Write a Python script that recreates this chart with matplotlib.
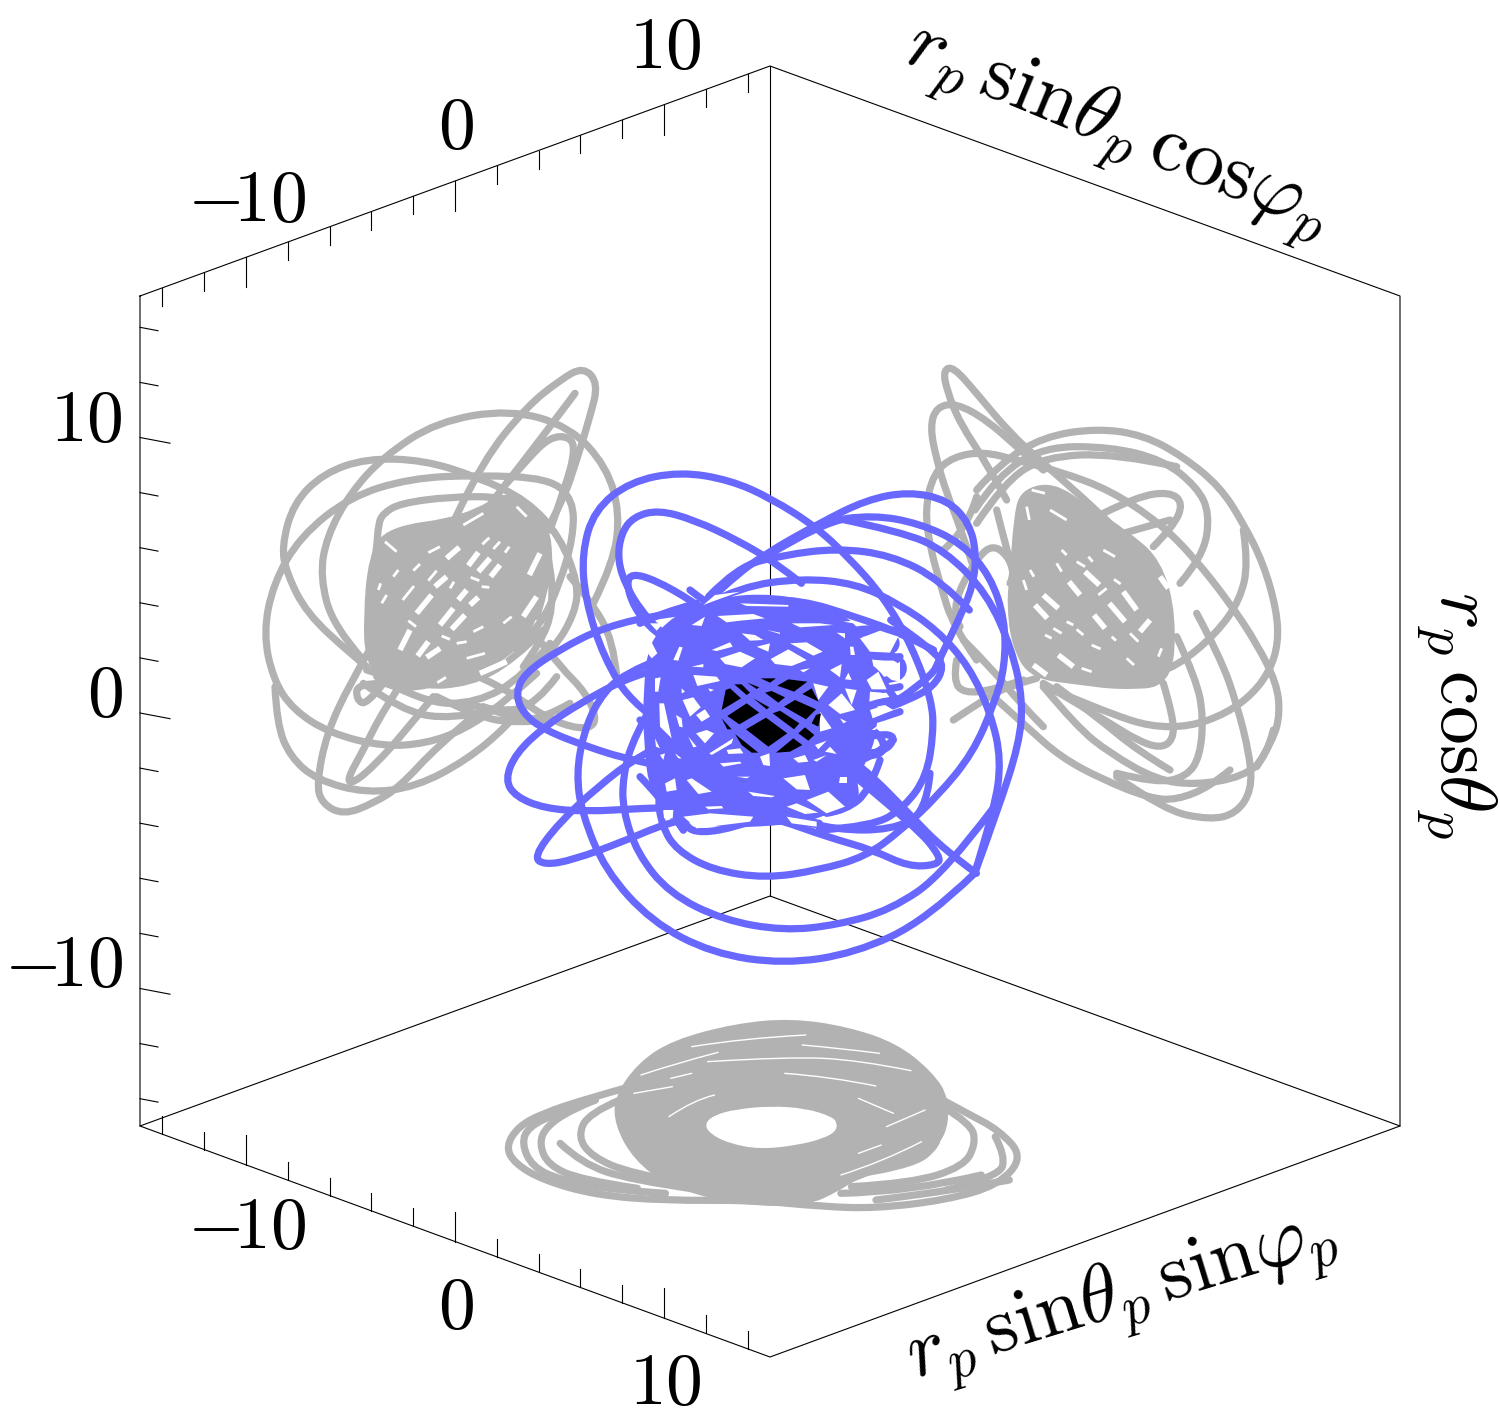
#!/usr/bin/env python

import matplotlib
matplotlib.use('Agg')
import matplotlib.pyplot as plt
from matplotlib.patches import PathPatch, Polygon
from matplotlib.path import Path

plt.rcParams['mathtext.fontset'] = 'cm'

BLUE = '#6868ff'
GRAY = '#b2b2b2'

# curves, each in the units of its own crop:
# image x = x0 + cx / sx, image y = y0 + cy / sy
blue_loops = [
    [(1385,1240),(1250,1380),(1050,1480),(850,1512),(650,1480),(480,1385),(350,1230),(285,1060),(270,940),(290,820),(330,720),(400,640),(520,590)],
    [(1440,1040),(1300,1240),(1150,1350),(1000,1395),(850,1412),(680,1380),(530,1300),(440,1180),(400,1050),(400,950),(430,830),(500,700)],
    [(1385,1240),(1450,1050),(1510,850),(1520,720),(1490,570),(1420,400),(1300,270),(1180,215),(1000,175)],
    [(560,830),(430,740),(345,590),(295,420),(285,280),(320,150),(420,65),(560,35),(700,60),(815,115),(940,200),(1030,290),(1130,410),(1210,560),(1265,720),(1270,820),(1250,950),(1190,1040),(1100,1100),(950,1110)],
    [(1100,770),(1260,660),(1290,590),(1340,480),(1380,380),(1390,280),(1370,190),(1310,120),(1200,95),(1080,120),(950,190),(800,280),(700,360),(560,500)],
    [(800,290),(960,185),(1100,165),(1230,190),(1350,250),(1430,350),(1470,480),(1470,620),(1440,730),(1380,880),(1280,1010),(1180,1110),(1080,1190),(950,1230),(800,1255),(650,1230),(550,1170),(510,1100),(495,1000),(520,880)],
    [(640,430),(730,380),(900,355),(1050,370),(1170,430),(1280,510),(1370,620),(1430,760),(1460,900),(1440,1050),(1385,1240)],
    [(640,410),(720,320),(850,285),(1000,265),(1150,285),(1290,360),(1370,450)],
    [(900,370),(830,310),(720,240),(600,180),(500,150),(430,170),(395,220),(385,300),(410,380),(450,450),(500,510),(580,590)],
    [(700,500),(590,420),(490,360),(425,340),(410,370),(430,440),(480,510),(560,570)],
    [(800,440),(680,450),(520,460),(350,500),(220,570),(125,640),(100,700),(120,760),(180,810),(300,860),(420,900),(600,940)],
    [(640,570),(520,620),(400,660),(280,730),(180,800),(100,880),(70,960),(100,1010),(180,1045),(300,1055),(450,1045),(620,1040),(800,1060),(950,1090)],
    [(800,1040),(650,1060),(520,1090),(400,1145),(260,1200),(180,1215),(150,1190),(220,1090),(330,980),(440,890),(600,800)],
    [(900,760),(1040,900),(1100,950),(1200,1060),(1300,1170),(1390,1240)],
    [(560,1000),(700,1040),(840,1080),(970,1130),(1100,1170),(1200,1220),(1280,1215),(1290,1190),(1220,1100),(1050,950)],
    [(700,1000),(850,1070),(1000,1110),(1150,1110),(1250,1060),(1260,940)],
    [(960,1000),(820,1060),(720,1100),(620,1120),(570,1100),(560,1040)],
    [(980,600),(1050,590),(1130,580),(1185,600),(1185,650),(1130,660),(1050,690)],
    [(960,510),(1060,520),(1150,520),(1170,550),(1150,580),(1060,590)],
    [(960,830),(1100,760),(1200,720),(1270,680),(1300,620),(1270,570),(1150,480)],
    [(980,900),(1080,890),(1130,880),(1130,840),(1090,800),(1000,760)],
    [(800,1030),(900,1050),(1000,1060),(1050,1020),(1050,970),(1030,900)],
    [(600,470),(750,420),(900,420),(1050,470),(1180,520),(1270,570)],
    [(520,1030),(650,1080),(800,1090),(960,1070),(1050,1000)],
]
# middle of the orbit: solid colour with the white and black gaps between the strands
blue_core = [(10,300),(25,160),(100,75),(240,20),(400,10),(570,45),(680,130),(715,300),(710,450),(660,550),(620,660),(460,700),(300,715),(120,700),(30,620),(10,450)]
blue_core_strands = [
    [(650,210),(700,235),(740,290),(775,340)],
    [(660,345),(720,340),(780,325)],
    [(670,300),(730,302),(780,290)],
    [(560,430),(680,400),(780,365)],
    [(650,200),(670,300),(680,390),(660,480)],
    [(640,450),(720,430),(770,440),(730,490),(670,490)],
    [(650,120),(720,110),(780,125)],
    [(650,190),(720,205),(780,200)],
    [(640,520),(700,500),(760,450)],
    [(620,510),(700,590),(780,670)],
    [(560,670),(620,660),(690,600),(720,510)],
    [(0,560),(60,620),(130,720)],
    [(40,540),(90,650),(130,720)],
    [(0,390),(50,420),(50,540)],
    [(0,100),(60,70),(170,40)],
    [(150,0),(200,40),(240,60)],
]
blue_gaps = [
    [(240,205),(300,185),(345,205),(305,232),(255,222)],[(392,207),(445,178),(500,210),(455,228),(405,222)],
    [(215,180),(270,157),(278,170),(230,183)],[(305,130),(345,135),(370,150),(330,152)],
    [(450,160),(500,157),(548,185),(520,197)],[(350,170),(390,160),(385,185)],
    [(160,255),(230,260),(240,273),(172,288)],[(128,330),(160,322),(182,352),(150,380)],
    [(168,375),(195,358),(210,380),(185,395)],[(58,340),(72,340),(95,445),(60,410)],
    [(168,430),(200,420),(222,430),(195,460)],[(208,490),(280,445),(275,460),(215,495)],
    [(100,210),(118,170),(128,172),(115,212)],[(12,175),(35,157),(52,190),(35,205)],
    [(45,265),(62,262),(55,305),(45,305)],[(30,100),(70,100),(50,122)],
    [(155,105),(195,80),(185,108)],[(232,78),(340,72),(375,85),(300,92),(260,97)],
    [(190,45),(225,15),(300,5),(230,30)],[(660,145),(720,122),(775,140),(750,188),(690,185)],
    [(730,250),(780,215),(780,275),(755,270)],[(680,270),(715,245),(740,298),(695,298)],
    [(615,295),(650,300),(635,345)],[(565,345),(605,310),(645,360),(600,372)],
    [(690,360),(735,345),(760,360),(698,385)],[(615,268),(625,248),(635,270)],
    [(570,240),(605,222),(600,262)],[(520,280),(565,290),(535,330)],
    [(540,365),(575,415),(540,425)],[(690,305),(725,308),(740,320),(688,335)],
    [(695,420),(730,395),(705,420)],[(600,385),(620,395),(610,400)],
    [(500,630),(565,605),(615,650),(560,670)],[(430,565),(495,555),(510,600),(470,598)],
    [(440,650),(470,640),(535,668),(495,672)],[(440,680),(530,695),(530,710),(455,700)],
    [(130,680),(210,670),(340,680),(330,695),(170,715)],[(140,570),(155,565),(215,605),(175,612)],
    [(75,580),(105,565),(110,600),(80,605)],[(240,520),(300,515),(305,520),(250,530)],
    [(325,605),(405,618),(395,622),(340,618)],[(290,560),(330,560),(320,565)],
    [(460,505),(495,495),(505,515),(475,518)],[(520,510),(560,495),(530,515)],
    [(360,500),(388,490),(390,528),(370,525)],[(525,465),(560,452),(535,478)],
    [(555,485),(570,470),(590,492)],[(260,480),(300,475),(310,490),(265,492)],
    [(70,660),(100,660),(98,685),(72,685)],[(195,650),(245,648),(250,655),(205,658)],
    [(600,560),(620,560),(620,580),(598,580)],[(108,375),(125,385),(128,412),(118,410)],
    [(145,440),(170,470),(160,472)],[(45,445),(60,475),(48,470)],[(105,490),(125,505),(115,505)],
    [(60,495),(75,490),(70,510)],[(205,295),(222,300),(210,305)],[(125,295),(135,305),(125,310)],
    [(590,128),(615,130),(615,145)],[(380,120),(420,128),(420,132)],[(455,100),(540,100),(580,105),(480,112)],
    [(610,95),(640,92),(640,100)],[(630,170),(640,170),(645,195),(632,195)],[(480,240),(510,235),(490,247)],
    [(155,230),(190,222),(190,232)],[(300,40),(445,45),(445,50),(320,48)],
]
hole_cells = [
    [(362,265),(408,265),(390,278)],[(412,287),(445,268),(502,275),(462,305)],
    [(322,278),(358,292),(350,297)],[(283,283),(305,283),(330,308),(320,315)],
    [(257,300),(270,295),(303,325),(245,360)],[(375,308),(395,303),(435,322),(415,338)],
    [(340,325),(388,352),(380,358)],[(487,312),(515,295),(536,335)],
    [(432,350),(465,330),(528,358),(498,388)],[(262,378),(320,340),(358,368),(298,403)],
    [(398,370),(420,362),(478,400),(462,418)],[(318,418),(378,383),(442,430),(385,470)],
    [(245,385),(275,418),(262,418)],[(515,400),(528,375),(543,370),(535,410)],
    [(475,430),(495,412),(523,435),(505,452)],[(285,432),(355,488),(335,488),(305,465)],
    [(408,488),(460,445),(487,465),(450,485)],
]

left_loops = [
    [(400,1000),(560,620),(700,330),(830,170),(930,90),(1000,50),(1045,100),(1020,200),(980,330),(940,450),(880,560)],
    [(340,930),(250,830),(210,680),(230,560),(300,430),(400,320),(560,215),(780,178),(960,230),(1070,350),(1110,490),(1090,640),(1030,760)],
    [(350,950),(300,910),(170,790),(110,670),(95,590),(130,460),(220,370),(350,325),(520,330),(680,380),(830,450),(930,560),(985,700),(975,790),(910,900),(840,960)],
    [(860,970),(760,1060),(640,1140),(530,1180),(400,1190),(240,1150),(130,1080),(70,990),(40,850),(70,700),(150,560),(300,440),(480,385),(680,375),(900,385),(970,450),(970,560),(930,700),(870,830),(800,900)],
    [(75,1010),(80,1120),(120,1220),(200,1290),(350,1330),(500,1310),(650,1230),(770,1130),(830,1060)],
    [(370,880),(300,1000),(230,1150),(200,1300),(215,1360),(280,1395),(370,1360),(450,1310),(560,1190),(680,1090)],
    [(480,960),(400,1080),(340,1200),(290,1290),(310,1300),(380,1240),(460,1150),(550,1040)],
    [(640,960),(760,1010),(880,1100),(990,1140),(1045,1120),(1010,1030),(930,950),(860,860)],
    [(1100,980),(1090,870),(1020,750),(960,680)],
    [(975,130),(900,230),(800,360),(700,490),(600,620)],
    [(770,400),(830,330),(900,260),(960,260),(975,300),(950,400),(900,540)],
    [(400,700),(370,640),(380,600),(385,520),(400,490),(450,460),(600,440),(760,440),(860,480),(900,600),(890,700),(860,800)],
    [(400,1000),(320,1000),(320,1050),(350,1065),(400,1000)],
    [(700,1070),(800,1110),(880,1105),(960,1060)],
    [(640,1060),(760,1090),(860,1060),(920,980)],
    [(350,960),(500,1010),(660,1000),(790,930),(880,840)],
    [(380,980),(520,1060),(680,1060),(820,980),(900,880)],
    [(860,500),(900,620),(910,780),(870,880),(820,950)],
    [(340,1000),(450,1080),(600,1110),(740,1080)],
    [(560,1040),(680,1100),(800,1120),(900,1110)],
]
left_core = [(340,800),(355,620),(410,530),(640,500),(790,410),(880,500),(915,600),(870,790),(810,900),(660,990),(410,1040),(345,930)]
left_gaps_wide = [
    [(685,665),(720,625)],[(722,680),(750,645)],[(555,710),(590,680)],[(500,790),(545,735)],
    [(570,825),(610,775)],[(605,838),(645,795)],[(625,750),(650,720)],[(660,765),(685,742)],
    [(450,900),(480,840)],[(503,918),(535,875)],[(530,922),(570,895)],[(838,675),(870,610)],
    [(820,800),(860,740)],[(690,970),(770,935)],[(590,625),(628,592)],[(655,647),(685,607)],
]
left_gaps_thin = [
    [(697,583),(718,563)],[(730,597),(750,575)],[(765,608),(778,590)],[(535,608),(570,590)],
    [(490,662),(510,642)],[(535,692),(560,662)],[(458,750),(492,708)],[(395,760),(410,735)],
    [(695,710),(718,712)],[(662,682),(688,692)],[(475,812),(498,830)],[(575,858),(600,868)],
    [(650,925),(705,910)],[(562,998),(588,982)],[(405,575),(440,605)],[(600,715),(612,695)],
    [(670,845),(700,830)],[(760,820),(785,800)],[(430,680),(445,660)],[(620,880),(650,875)],
    [(385,720),(392,700)],[(640,525),(700,490)],[(800,470),(830,500)],
]

right_loops = [
    [(290,450),(230,340),(150,220),(110,120),(100,60),(130,50),(200,130),(300,250),(400,340),(560,480),(700,620),(770,760)],
    [(190,650),(150,530),(110,430),(80,330),(60,230),(80,170),(140,160),(230,210),(320,290),(400,360)],
    [(200,930),(130,830),(90,700),(60,590),(45,480),(70,370),(130,320),(220,305),(320,330),(450,365),(600,420),(750,520),(850,620),(960,760),(1040,880),(1100,1000),(1110,1090),(1090,1170),(1040,1250)],
    [(200,420),(270,340),(400,260),(560,235),(700,255),(820,320),(930,410),(1000,520),(1060,640),(1100,780),(1105,880),(1080,960),(1030,1030),(950,1090),(840,1130),(720,1130),(600,1090),(480,1040),(400,1010)],
    [(195,480),(260,380),(400,290),(600,290),(760,330),(860,410),(900,490),(880,620),(810,700)],
    [(1000,540),(1015,640),(990,750),(920,850),(800,950),(750,965)],
    [(730,590),(790,530),(820,460),(780,425),(680,440),(580,490)],
    [(640,550),(780,510)],
    [(250,1040),(350,1130),(450,1220),(580,1290),(720,1345),(800,1350),(900,1310),(960,1260)],
    [(620,1280),(760,1380),(900,1410),(980,1390),(1025,1320),(1020,1220),(980,1060),(930,920),(860,790)],
    [(400,1010),(500,1130),(600,1210),(740,1290),(860,1305),(1000,1280),(1070,1220),(1090,1140)],
    [(760,1000),(790,1100),(790,1170),(750,1195),(680,1170),(600,1120),(500,1060),(400,1000)],
    [(800,860),(860,990),(880,1100),(870,1220),(830,1280),(740,1300),(620,1270)],
    [(130,1110),(220,1050),(290,1010),(380,985)],
    [(340,990),(250,1020),(160,1030),(130,990),(140,930)],
    [(160,870),(250,960),(330,1060),(400,1130)],
    [(150,830),(120,780),(200,620),(260,580),(320,660),(300,700)],
    [(100,600),(170,540),(200,440)],
    [(260,480),(290,600),(320,700),(340,850)],
    [(200,520),(280,400),(400,320),(620,310),(800,350)],
    [(440,1010),(560,1100),(680,1200),(780,1260)],
]
right_core = [(300,670),(310,510),(330,420),(430,395),(540,470),(650,540),(755,630),(800,800),(785,1010),(630,1020),(510,1005),(360,985),(305,890),(290,760)]
right_gaps_wide = [
    [(400,735),(445,775)],[(375,765),(412,805)],[(525,665),(568,705)],[(477,695),(510,735)],
    [(640,725),(680,780)],[(598,760),(645,815)],[(552,795),(585,835)],[(445,915),(490,950)],
    [(370,945),(410,975)],[(690,845),(720,810)],[(750,680),(775,715)],
]
right_gaps_thin = [
    [(500,635),(525,650)],[(565,735),(590,715)],[(612,688),(632,702)],[(535,620),(548,635)],
    [(430,835),(455,850)],[(470,815),(490,825)],[(500,838),(520,855)],[(405,855),(425,865)],
    [(660,850),(685,875)],[(605,860),(618,872)],[(545,885),(572,897)],[(515,955),(545,965)],
    [(420,480),(470,510)],[(365,420),(405,430)],[(360,660),(372,680)],[(580,600),(615,620)],
    [(745,920),(755,895)],[(350,470),(358,510)],[(440,640),(455,665)],[(340,690),(350,720)],
    [(650,925),(672,945)],[(455,600),(470,615)],
]

floor_band_outer = [(355,260),(420,160),(520,90),(700,40),(860,25),(1020,50),(1160,100),(1260,185),(1310,265),(1300,390),(1210,450),(1040,510),(1000,540),(900,590),(700,585),(510,530),(410,450),(355,345)]
floor_band_hole = [(612,340),(640,315),(700,298),(800,288),(900,295),(975,320),(990,340),(985,365),(950,385),(880,405),(770,418),(680,400),(625,370)]
floor_loops = [
    [(400,230),(280,265),(150,310),(80,350),(45,410),(70,460),(150,510),(300,555),(500,572),(750,570),(950,590),(1100,595),(1300,570),(1450,525),(1520,440),(1450,360),(1360,310),(1290,270)],
    [(500,550),(350,540),(200,510),(120,470),(90,400),(110,350),(190,310),(300,270)],
    [(300,270),(230,300),(160,350),(140,400),(165,465),(260,510),(420,535)],
    [(560,520),(400,490),(290,440),(250,380),(280,310),(370,270)],
    [(600,540),(400,510),(260,460),(200,400)],
    [(1030,530),(1200,520),(1350,470),(1385,400),(1370,340),(1290,290)],
    [(1000,500),(1200,470),(1280,400),(1270,350),(1200,290)],
    [(1300,540),(1450,500),(1470,440),(1440,380)],
    [(1100,570),(1300,545),(1480,510)],
    [(1000,550),(1200,545),(1400,495)],
    [(470,450),(400,400),(385,330)],
]
floor_gaps = [
    [(575,110),(720,85),(900,75)],
    [(620,155),(850,140),(1050,150),(1200,182)],
    [(430,195),(530,160),(650,127)],
    [(515,205),(575,190)],
    [(840,190),(970,200),(1100,228)],
    [(890,105),(1000,115),(1110,130)],
    [(410,250),(520,230)],
    [(510,320),(580,270),(640,255)],
    [(1050,265),(1150,310)],
    [(1050,430),(1115,405)],
    [(1130,350),(1240,300)],
    [(1000,495),(1120,455),(1230,395)],
]

axis_ticks = [-14, -12, -10, -8, -6, -4, -2, 0, 2, 4, 6, 8, 10, 12, 14]
major_ticks = [-10, 0, 10]

box_lines = [
    [(140, 296), (140, 1126), (770, 1357), (1400, 1126), (1400, 296), (770, 66), (140, 296)],
    [(770, 66), (770, 896)],
    [(140, 1126), (770, 896), (1400, 1126)],
]

back_labels = [(r'$-\!10$', 247, 200), ('$0$', 456, 127), ('$10$', 665, 47)]
front_labels = [(r'$-\!10$', 247, 1228), ('$0$', 456, 1307), ('$10$', 665, 1383)]
side_labels = [('$10$', 123, 420), ('$0$', 123, 695), (r'$-\!10$', 123, 965)]


def crop(pts, x0, y0, sx, sy):
    return [(x0 + x / sx, y0 + y / sy) for x, y in pts]


def smooth(pts):
    verts = [pts[0]]
    codes = [Path.MOVETO]
    if len(pts) == 2:
        return Path(pts, [Path.MOVETO, Path.LINETO])
    for i in range(1, len(pts) - 2):
        mid = ((pts[i][0] + pts[i + 1][0]) / 2, (pts[i][1] + pts[i + 1][1]) / 2)
        verts += [pts[i], mid]
        codes += [Path.CURVE3, Path.CURVE3]
    verts += [pts[-2], pts[-1]]
    codes += [Path.CURVE3, Path.CURVE3]
    return Path(verts, codes)


def smooth_closed(pts):
    first = ((pts[0][0] + pts[1][0]) / 2, (pts[0][1] + pts[1][1]) / 2)
    return smooth([first] + pts[1:] + pts[:1] + [first])


def draw_curve(ax, pts, color, zorder, lw=5.2, cap='round'):
    ax.add_patch(PathPatch(smooth(pts), fc='none', ec=color, lw=lw, capstyle=cap,
                           joinstyle='round', zorder=zorder))


def draw_wall_shadow(ax, loops, core, wide, thin, x0):
    for loop in loops:
        draw_curve(ax, crop(loop, x0, 350, 3, 3), GRAY, 2)
    ax.add_patch(PathPatch(smooth_closed(crop(core, x0, 350, 3, 3)), fc=GRAY, ec='none', zorder=2))
    for gap in wide:
        draw_curve(ax, crop(gap, x0, 350, 3, 3), 'white', 2.5, lw=4.0, cap='butt')
    for gap in thin:
        draw_curve(ax, crop(gap, x0, 350, 3, 3), 'white', 2.5, lw=2.0, cap='butt')


fig = plt.figure(figsize=(15, 14.25), dpi=100)
ax = fig.add_axes([0, 0, 1, 1])
ax.set_xlim(0, 1500)
ax.set_ylim(1425, 0)
ax.axis('off')

# box
for line in box_lines:
    ax.plot([p[0] for p in line], [p[1] for p in line], color='k', lw=0.8, zorder=1)

# ticks, 20.9 px per unit along the flat edges, 27.55 px per unit on the vertical one
for t in axis_ticks:
    size = 30 if t in major_ticks else 18
    x = 455 + 20.9 * t
    y_top = 296 - 0.365 * (x - 140)
    y_bot = 1126 + 0.3667 * (x - 140)
    ax.plot([x, x], [y_top, y_top + size], color='k', lw=0.8, zorder=1)
    ax.plot([x, x], [y_bot, y_bot - size], color='k', lw=0.8, zorder=1)
    y = 713 - 27.55 * t
    ax.plot([140, 140 + size], [y, y + size * 0.19], color='k', lw=0.8, zorder=1)

# shadows on the walls and the floor
draw_wall_shadow(ax, left_loops, left_core, left_gaps_wide, left_gaps_thin, 250)
draw_wall_shadow(ax, right_loops, right_core, right_gaps_wide, right_gaps_thin, 910)

outer = smooth_closed(crop(floor_band_outer, 490, 1010, 2.85, 3))
inner = smooth_closed(crop(floor_band_hole[::-1], 490, 1010, 2.85, 3))
ax.add_patch(PathPatch(Path.make_compound_path(outer, inner), fc=GRAY, ec='none', zorder=2))
for loop in floor_loops:
    draw_curve(ax, crop(loop, 490, 1010, 2.85, 3), GRAY, 2)
for gap in floor_gaps:
    draw_curve(ax, crop(gap, 490, 1010, 2.85, 3), 'white', 2.5, lw=1.0)

# the orbit, then the gaps in its middle and the black hole seen through them
for loop in blue_loops:
    draw_curve(ax, crop(loop, 480, 460, 2.8, 3), BLUE, 4)
for strand in blue_core_strands:
    draw_curve(ax, crop(strand, 640, 590, 3, 3), BLUE, 4)
ax.add_patch(PathPatch(smooth_closed(crop(blue_core, 640, 590, 3, 3)), fc=BLUE, ec='none', zorder=4))
for gap in blue_gaps:
    ax.add_patch(Polygon(crop(gap, 640, 590, 3, 3), fc='white', ec='none', zorder=5))
for cell in hole_cells:
    ax.add_patch(Polygon(crop(cell, 640, 590, 3, 3), fc='k', ec='none', zorder=5))

for label, x, y in back_labels + front_labels:
    ax.text(x, y, label, fontsize=53, ha='center', va='center')
for label, x, y in side_labels:
    ax.text(x, y, label, fontsize=53, ha='right', va='center')

ax.text(1117, 132, r'$r_p\,\mathrm{sin}\theta_p\,\mathrm{cos}\varphi_p$', fontsize=58, rotation=-22.5,
        ha='center', va='center', rotation_mode='anchor')
ax.text(1122, 1298, r'$r_p\,\mathrm{sin}\theta_p\,\mathrm{sin}\varphi_p$', fontsize=58, rotation=17,
        ha='center', va='center', rotation_mode='anchor')
ax.text(1456, 715, r'$r_p\,\mathrm{cos}\theta_p$', fontsize=56, rotation=-90,
        ha='center', va='center', rotation_mode='anchor')

fig.savefig('out.png', dpi=100)
